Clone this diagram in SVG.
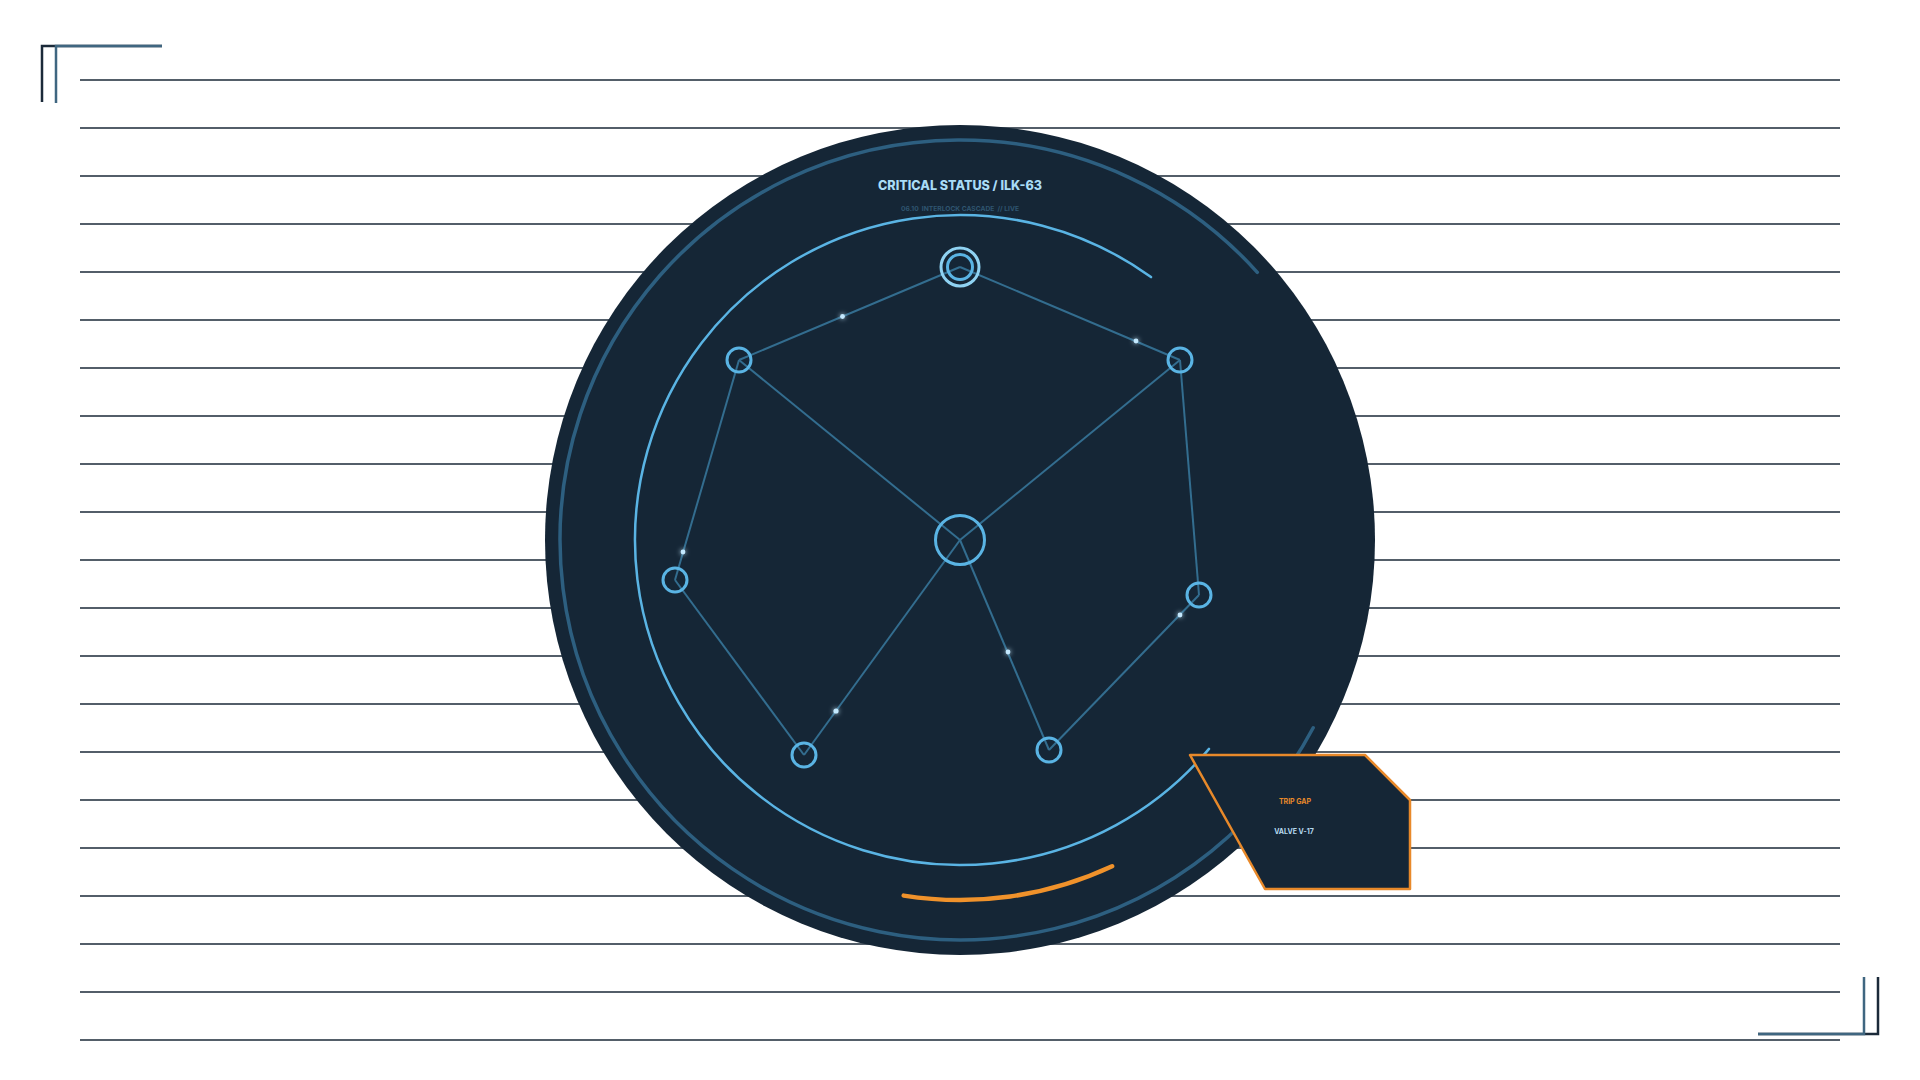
<svg xmlns="http://www.w3.org/2000/svg" width="1920" height="1080" viewBox="0 0 1920 1080">
<defs>
<style>
.rule{stroke:#1b2a39;stroke-width:1.6;fill:none}
.edge{stroke:#336d8f;stroke-width:2;fill:none}
.node{stroke:#5ab4e4;stroke-width:3;fill:none}
.dot{fill:#c4e9ff}
.ttl{font-family:Inter,"Liberation Sans",Arial,sans-serif;font-weight:800;text-anchor:middle}
.sm{font-family:Inter,"Liberation Sans",Arial,sans-serif;font-weight:700;text-anchor:middle}
</style>
<filter id="glow" x="-3" y="-3" width="7" height="7">
<feGaussianBlur stdDeviation="2.5" result="b"/>
<feMerge><feMergeNode in="b"/><feMergeNode in="SourceGraphic"/></feMerge>
</filter>
</defs>
<rect width="1920" height="1080" fill="#ffffff"/>
<g id="rules">
<path class="rule" d="M80,80H1840M80,128H1840M80,176H1840M80,224H1840M80,272H1840M80,320H1840M80,368H1840M80,416H1840M80,464H1840M80,512H1840M80,560H1840M80,608H1840M80,656H1840M80,704H1840M80,752H1840M80,800H1840M80,848H1840M80,896H1840M80,944H1840M80,992H1840M80,1040H1840"/>
</g>
<g id="corners" fill="none" stroke-width="2.5">
<path d="M42,102V46H162" stroke="#1b2a39"/>
<path d="M56,103V46H162" stroke="#3f6680"/>
<path d="M1878,977V1034H1758" stroke="#1b2a39"/>
<path d="M1864,977V1034H1758" stroke="#3f6680"/>
</g>
<g id="dial">
<circle cx="960" cy="540" r="415" fill="#152636"/>
<path d="M1313.2,727.8A400,400 0 1 1 1257.3,272.3" fill="none" stroke="#2d5f80" stroke-width="3.5" stroke-linecap="round"/>
<path d="M1209,748.9A325,325 0 1 1 1151,277.1" fill="none" stroke="#5ab4e4" stroke-width="2.5" stroke-linecap="round"/>
<path d="M903.7,895.6A360,360 0 0 0 1112.1,866.3" fill="none" stroke="#f0922b" stroke-width="4.5" stroke-linecap="round"/>
<text class="ttl" x="960" y="189.5" font-size="12.5" fill="#a9dcf6" textLength="164" lengthAdjust="spacingAndGlyphs">CRITICAL STATUS / ILK-63</text>
<text class="sm" x="960" y="210.5" font-size="6.5" fill="#2f5570" xml:space="preserve" textLength="118" lengthAdjust="spacingAndGlyphs">06.10  INTERLOCK CASCADE  // LIVE</text>
</g>
<g id="connectors">
<line class="edge" x1="960" y1="267" x2="739" y2="360"/>
<line class="edge" x1="960" y1="267" x2="1180" y2="360"/>
<line class="edge" x1="739" y1="360" x2="960" y2="540"/>
<line class="edge" x1="1180" y1="360" x2="960" y2="540"/>
<line class="edge" x1="739" y1="360" x2="675" y2="580"/>
<line class="edge" x1="675" y1="580" x2="804" y2="755"/>
<line class="edge" x1="960" y1="540" x2="804" y2="755"/>
<line class="edge" x1="960" y1="540" x2="1049" y2="750"/>
<line class="edge" x1="1049" y1="750" x2="1199" y2="595"/>
<line class="edge" x1="1180" y1="360" x2="1199" y2="595"/>
<g filter="url(#glow)">
<circle class="dot" cx="842.5" cy="316.5" r="2.4"/>
<circle class="dot" cx="1136" cy="341" r="2.4"/>
<circle class="dot" cx="683" cy="552" r="2.4"/>
<circle class="dot" cx="836" cy="711" r="2.6"/>
<circle class="dot" cx="1008" cy="652" r="2.4"/>
<circle class="dot" cx="1180" cy="615" r="2.4"/>
</g>
</g>
<g id="node-top">
<circle cx="960" cy="267" r="19" fill="none" stroke="#8fd2f2" stroke-width="3"/>
<circle cx="960" cy="267" r="12.5" class="node"/>
</g>
<g id="node-hub"><circle cx="960" cy="540" r="24.5" class="node"/></g>
<g id="node-1"><circle cx="739" cy="360" r="12" class="node"/></g>
<g id="node-2"><circle cx="1180" cy="360" r="12" class="node"/></g>
<g id="node-3"><circle cx="675" cy="580" r="12" class="node"/></g>
<g id="node-4"><circle cx="1199" cy="595" r="12" class="node"/></g>
<g id="node-5"><circle cx="804" cy="755" r="12" class="node"/></g>
<g id="node-6"><circle cx="1049" cy="750" r="12" class="node"/></g>
<g id="trip-gap">
<polygon points="1190,755 1365,755 1410,800 1410,889 1265,889" fill="#152636" stroke="#e8892a" stroke-width="2.5" stroke-linejoin="round"/>
<text class="sm" x="1295" y="804" font-size="7" fill="#e8892a">TRIP GAP</text>
<text class="sm" x="1294" y="834" font-size="7" fill="#b5d9ee">VALVE V-17</text>
</g>
</svg>
